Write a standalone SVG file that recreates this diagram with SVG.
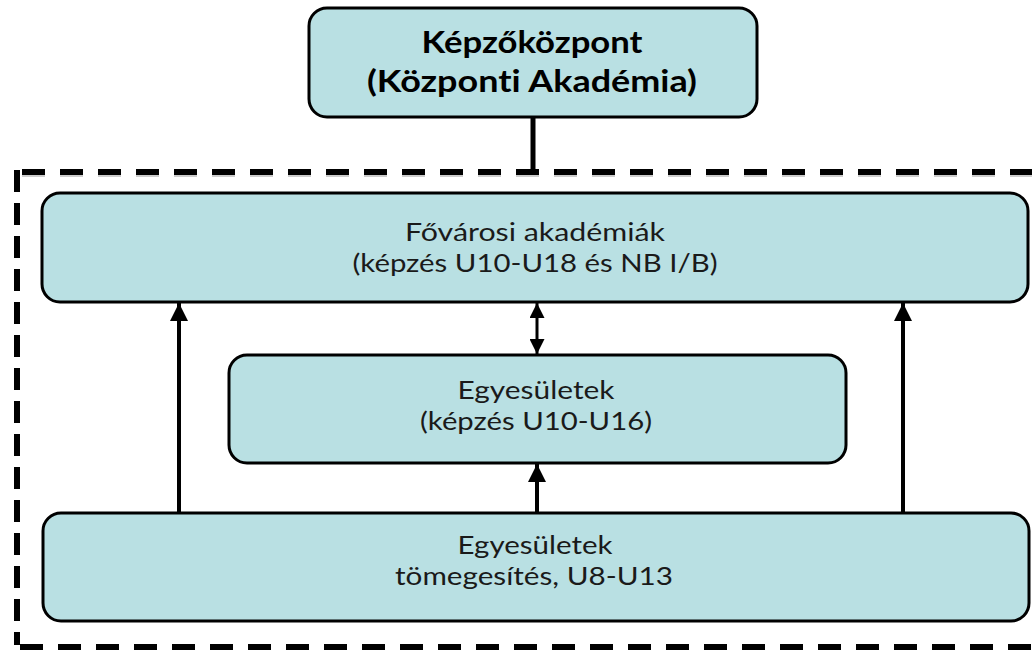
<svg xmlns="http://www.w3.org/2000/svg" width="1032" height="654" viewBox="0 0 1032 654">
<defs>
<style>
.box{fill:#b9e0e3;stroke:#000;stroke-width:3}
.t{font-family:Lato,"Open Sans",sans-serif;font-size:25.8px;fill:#1a1a1a;text-anchor:middle;font-variant-ligatures:none}
.tb{font-family:Lato,"Open Sans",sans-serif;font-size:30px;font-weight:bold;fill:#000;text-anchor:middle;font-variant-ligatures:none}
.dash{stroke:#000;stroke-width:6;fill:none}
.shadow{stroke:#999;stroke-width:6;fill:none}
.conn{stroke:#000;fill:none}
</style>
<marker id="ah" viewBox="0 0 10 10" refX="10" refY="5" markerWidth="18" markerHeight="18" markerUnits="userSpaceOnUse" orient="auto-start-reverse">
<path d="M0,0 L10,5 L0,10 z" fill="#000"/>
</marker>
<marker id="ah2" viewBox="0 0 10 10" refX="10" refY="5" markerWidth="15" markerHeight="15" markerUnits="userSpaceOnUse" orient="auto-start-reverse">
<path d="M0,0 L10,5 L0,10 z" fill="#000"/>
</marker>
</defs>
<rect width="1032" height="654" fill="#fff"/>
<g id="frame">
<line class="shadow" x1="22" y1="174" x2="1040" y2="174" stroke-dasharray="23 15" opacity="0.5"/>
<line class="dash" x1="22" y1="172" x2="1040" y2="172" stroke-dasharray="23 15"/>
<line class="dash" x1="17" y1="170" x2="17" y2="645" stroke-dasharray="22 11"/>
<line class="dash" x1="20" y1="647" x2="1040" y2="647" stroke-dasharray="23 15"/>
</g>
<g id="connectors">
<line class="conn" x1="533" y1="117" x2="533" y2="174" stroke-width="5"/>
<line class="conn" x1="179" y1="513" x2="179" y2="303" stroke-width="4" marker-end="url(#ah)"/>
<line class="conn" x1="903" y1="513" x2="903" y2="303" stroke-width="4" marker-end="url(#ah)"/>
<line class="conn" x1="537" y1="513" x2="537" y2="464" stroke-width="4" marker-end="url(#ah)"/>
<line class="conn" x1="537" y1="303" x2="537" y2="354" stroke-width="3" marker-start="url(#ah2)" marker-end="url(#ah2)"/>
</g>
<g id="kepzokozpont">
<rect class="box" x="309" y="8" width="448" height="109" rx="18"/>
<text class="tb" x="532" y="53" textLength="221" lengthAdjust="spacingAndGlyphs">Képzőközpont</text>
<text class="tb" x="532" y="92" textLength="330" lengthAdjust="spacingAndGlyphs">(Központi Akadémia)</text>
</g>
<g id="fovarosi">
<rect class="box" x="42" y="193" width="986" height="109" rx="18"/>
<text class="t" x="535" y="241" textLength="260" lengthAdjust="spacingAndGlyphs">Fővárosi akadémiák</text>
<text class="t" x="535" y="272" textLength="365" lengthAdjust="spacingAndGlyphs">(képzés U10-U18 és NB I/B)</text>
</g>
<g id="egyesuletek-kepzes">
<rect class="box" x="229" y="355" width="617" height="108" rx="18"/>
<text class="t" x="536" y="399" textLength="157" lengthAdjust="spacingAndGlyphs">Egyesületek</text>
<text class="t" x="536" y="430" textLength="232" lengthAdjust="spacingAndGlyphs">(képzés U10-U16)</text>
</g>
<g id="egyesuletek-tomeg">
<rect class="box" x="43" y="513" width="986" height="108" rx="18"/>
<text class="t" x="535" y="554" textLength="155" lengthAdjust="spacingAndGlyphs">Egyesületek</text>
<text class="t" x="534" y="585" textLength="278" lengthAdjust="spacingAndGlyphs">tömegesítés, U8-U13</text>
</g>
</svg>
